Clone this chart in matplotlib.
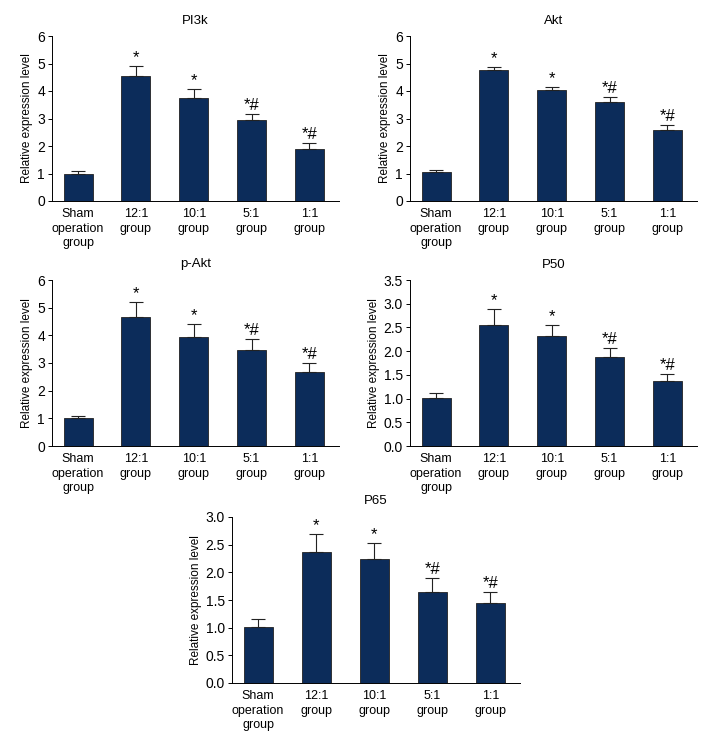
import matplotlib
matplotlib.use('Agg')
import matplotlib.pyplot as plt

plt.rcParams['font.family'] = ['Liberation Sans', 'DejaVu Sans']

groups = ['Sham\noperation\ngroup', '12:1\ngroup', '10:1\ngroup', '5:1\ngroup', '1:1\ngroup']
marks = ['', '*', '*', '*#', '*#']

pi3k = [1.0, 4.55, 3.73, 2.95, 1.9]
pi3k_err = [0.1, 0.37, 0.35, 0.23, 0.22]
akt = [1.07, 4.78, 4.02, 3.6, 2.58]
akt_err = [0.04, 0.1, 0.12, 0.18, 0.2]
pakt = [1.0, 4.65, 3.93, 3.47, 2.68]
pakt_err = [0.08, 0.55, 0.48, 0.4, 0.32]
p50 = [1.01, 2.55, 2.31, 1.87, 1.36]
p50_err = [0.11, 0.33, 0.25, 0.2, 0.16]
p65 = [1.02, 2.36, 2.24, 1.64, 1.44]
p65_err = [0.13, 0.33, 0.29, 0.26, 0.21]

W, H = 720, 744
fig = plt.figure(figsize=(7.2, 7.44), dpi=100)

# axes boxes in pixels: left, top, right, bottom
panels = [
    ('PI3k', pi3k, pi3k_err, (52, 36, 339, 201), 6, 1, '%d'),
    ('Akt', akt, akt_err, (410, 36, 697, 201), 6, 1, '%d'),
    ('p-Akt', pakt, pakt_err, (52, 280, 339, 446), 6, 1, '%d'),
    ('P50', p50, p50_err, (410, 280, 697, 446), 3.5, 0.5, '%.1f'),
    ('P65', p65, p65_err, (232, 517, 520, 683), 3.0, 0.5, '%.1f'),
]

color = '#0c2c5a'
for title, vals, errs, (l, t, r, b), ymax, step, fmt in panels:
    ax = fig.add_axes([l / W, 1 - b / H, (r - l) / W, (b - t) / H])
    x = range(len(vals))
    ax.bar(x, vals, width=0.5, color=color, edgecolor='#222222', linewidth=0.6)
    ax.errorbar(x, vals, yerr=[[0] * len(errs), errs], fmt='none', ecolor='#222222',
                elinewidth=0.8, capsize=5, capthick=0.8)
    for i, (v, e, m) in enumerate(zip(vals, errs, marks)):
        if m:
            ax.text(i, v + e + ymax * 0.005, m, ha='center', va='bottom', fontsize=12)
    ax.set_xlim(-0.45, 4.51)
    ax.set_ylim(0, ymax)
    n = int(round(ymax / step))
    ticks = [k * step for k in range(n + 1)]
    ax.set_yticks(ticks)
    ax.set_yticklabels([fmt % v for v in ticks])
    ax.set_xticks(list(x))
    ax.set_xticklabels(groups, fontsize=9, linespacing=1.3)
    ax.tick_params(axis='x', length=0, pad=5)
    ax.tick_params(axis='y', length=3, width=0.7, labelsize=10, pad=2)
    ax.spines['top'].set_visible(False)
    ax.spines['right'].set_visible(False)
    ax.spines['left'].set_linewidth(0.7)
    ax.spines['bottom'].set_linewidth(0.7)
    ax.set_ylabel('Relative expression level', fontsize=8.5, labelpad=3)
    ax.set_title(title, fontsize=9.5, pad=9)

fig.savefig('out.png', dpi=100, facecolor='white')
